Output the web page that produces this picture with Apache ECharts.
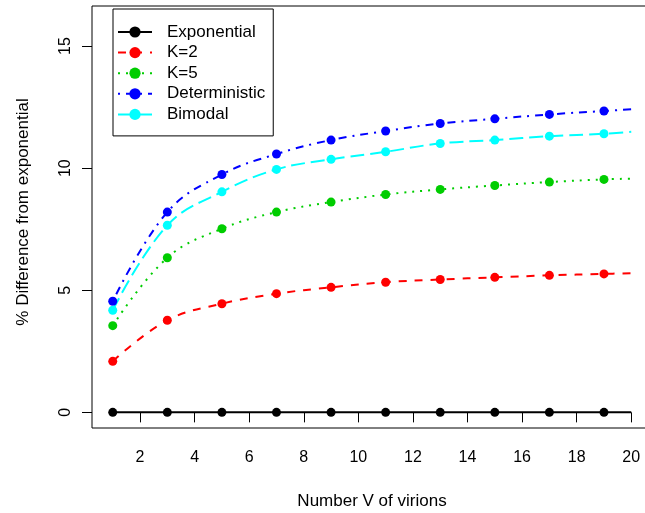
<!DOCTYPE html>
<html>
<head>
<meta charset="utf-8">
<script src="https://cdn.jsdelivr.net/npm/echarts@6/dist/echarts.min.js"></script>
<style>
  html, body { margin: 0; padding: 0; background: #fff; }
  #chart { width: 645px; height: 513px; }
</style>
</head>
<body>
<div id="chart"></div>
<script>
// Number of virions (V) at which each curve is sampled; the last entry is the curve end.
const virions = [1, 3, 5, 7, 9, 11, 13, 15, 17, 19, 20];

// % difference from the exponential model
const exponential   = [0, 0, 0, 0, 0, 0, 0, 0, 0, 0, 0];
const k2            = [2.09, 3.77, 4.45, 4.86, 5.12, 5.33, 5.44, 5.53, 5.61, 5.67, 5.70];
const k5            = [3.55, 6.33, 7.52, 8.20, 8.61, 8.92, 9.13, 9.29, 9.43, 9.54, 9.57];
const deterministic = [4.55, 8.20, 9.74, 10.58, 11.15, 11.52, 11.83, 12.02, 12.20, 12.34, 12.41];
const bimodal       = [4.18, 7.66, 9.03, 9.95, 10.36, 10.67, 11.01, 11.15, 11.31, 11.41, 11.49];

const xTicks = [2, 4, 6, 8, 10, 12, 14, 16, 18, 20];
const yTicks = [0, 5, 10, 15];

const FONT = 'Liberation Sans, Arial, Helvetica, sans-serif';

function pairs(ys) {
  // markers only on the odd sample points; the curve end carries none
  return virions.map((x, i) => ({
    value: [x, ys[i]],
    symbolSize: i === virions.length - 1 ? 0 : 9
  }));
}

function lineSeries(name, ys, color, dash) {
  return {
    name: name,
    type: 'line',
    data: pairs(ys),
    smooth: 0.4,
    symbol: 'circle',
    itemStyle: { color: color },
    lineStyle: { color: color, width: 2, type: dash, cap: 'butt' },
    emphasis: { disabled: true },
    animation: false
  };
}

const chart = echarts.init(document.getElementById('chart'), null, { renderer: 'canvas' });

chart.setOption({
  backgroundColor: '#ffffff',
  animation: false,
  grid: {
    left: 92, top: 6, right: -7, bottom: 85,
    outerBoundsMode: 'none',
    containLabel: false,
    show: true, borderColor: '#000', borderWidth: 1, backgroundColor: 'transparent'
  },
  xAxis: {
    type: 'value',
    min: 0.24, max: 20.76,
    axisLine: { show: false },
    splitLine: { show: false },
    axisTick: { show: true, inside: false, length: 10, customValues: xTicks, lineStyle: { color: '#000' } },
    axisLabel: { show: true, customValues: xTicks, margin: 22, color: '#000', fontSize: 16, fontFamily: FONT }
  },
  yAxis: {
    type: 'value',
    min: -0.64, max: 16.64,
    axisLine: { show: false },
    splitLine: { show: false },
    axisTick: { show: true, inside: false, length: 10, customValues: yTicks, lineStyle: { color: '#000' } },
    axisLabel: { show: true, customValues: yTicks, rotate: 90, margin: 18, color: '#000', fontSize: 16, fontFamily: FONT }
  },
  legend: {
    orient: 'vertical',
    left: 113, top: 9,
    padding: [14.5, 8, 13, 4],
    itemWidth: 34, itemHeight: 14, itemGap: 3.6,
    backgroundColor: '#fff',
    borderColor: '#000', borderWidth: 1, borderRadius: 0,
    textStyle: { color: '#000', fontSize: 17, lineHeight: 17, fontFamily: FONT, padding: [0, 0, 0, 10] },
    data: ['Exponential', 'K=2', 'K=5', 'Deterministic', 'Bimodal']
  },
  graphic: [
    {
      type: 'text', x: 372, y: 501,
      style: { text: 'Number V of virions', fill: '#000', font: '17px ' + FONT, textAlign: 'center', textVerticalAlign: 'middle' }
    },
    {
      type: 'text', x: 23, y: 212, rotation: Math.PI / 2,
      style: { text: '% Difference from exponential', fill: '#000', font: '17px ' + FONT, textAlign: 'center', textVerticalAlign: 'middle' }
    }
  ],
  series: [
    lineSeries('Exponential', exponential, '#000000', 'solid'),
    lineSeries('K=2', k2, '#ff0000', [8, 8]),
    lineSeries('K=5', k5, '#00cd00', [2, 6]),
    lineSeries('Deterministic', deterministic, '#0000ff', [2, 6, 8, 6]),
    lineSeries('Bimodal', bimodal, '#00ffff', [14, 6])
  ]
});
</script>
</body>
</html>
